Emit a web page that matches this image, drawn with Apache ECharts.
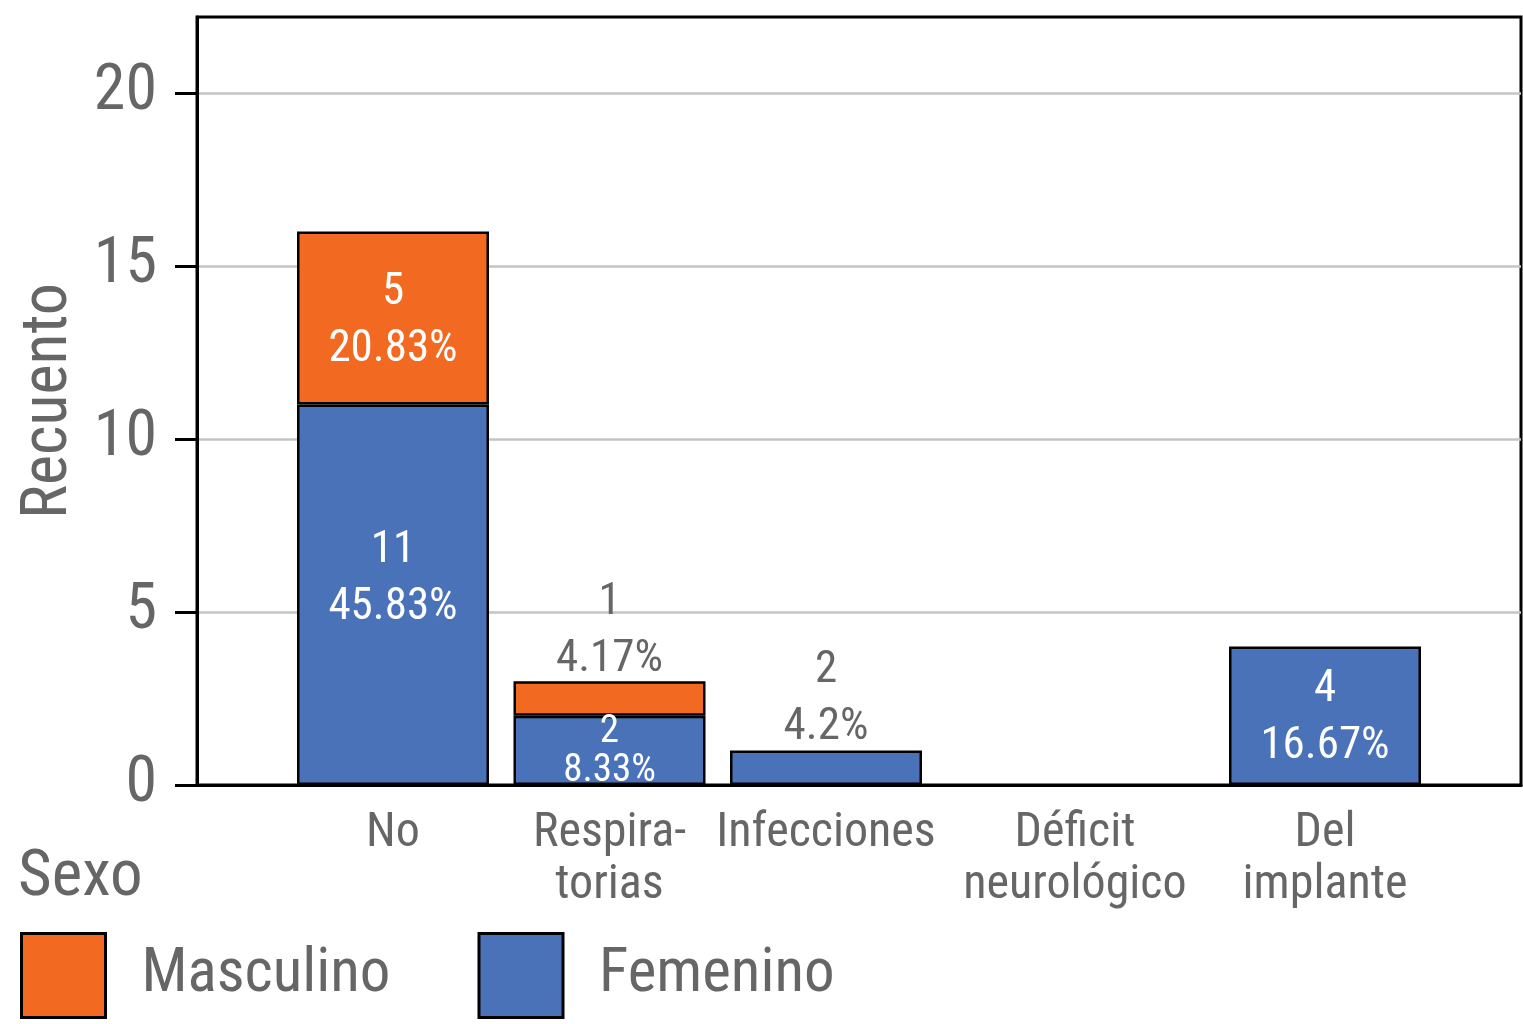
<!DOCTYPE html>
<html>
<head>
<meta charset="utf-8">
<script src="https://cdn.jsdelivr.net/npm/echarts@6/dist/echarts.min.js"></script>
<style>html,body{margin:0;padding:0;background:#fff}#c{width:1523px;height:1024px}</style>
</head>
<body>
<div id="c"></div>
<script>
var categories = ['No', 'Respira-\ntorias', 'Infecciones', 'Déficit\nneurológico', 'Del\nimplante'];
var femenino = [11, 2, 1, 0, 4];
var masculino = [5, 1, 0, 0, 0];
var femCountLabels = ['11', '2', '2', '', '4'];
var femPctLabels = ['45.83%', '8.33%', '4.2%', '', '16.67%'];
var mascCountLabels = ['5', '1', '', '', ''];
var mascPctLabels = ['20.83%', '4.17%', '', '', ''];
var yTicks = [0, 5, 10, 15, 20];
var yMax = 22.2;

var FONT = '"Roboto Condensed", "DejaVu Sans Condensed", sans-serif';
var GREY = '#666666';
var ORANGE = '#F26A22';
var BLUE = '#4A72B8';

// per-index label styling (not data)
var femLabelStyle = [
  {position: 'inside', color: '#fff', offset: [0, -15]},
  {position: 'inside', color: '#fff', fontSize: 39, lineHeight: 39, offset: [0, 1]},
  {position: 'top', color: GREY, distance: -6},
  {position: 'inside', color: '#fff'},
  {position: 'inside', color: '#fff', offset: [0, 2]}
];
var mascLabelStyle = [
  {position: 'inside', color: '#fff', offset: [0, 3]},
  {position: 'top', color: GREY, distance: -7},
  {position: 'inside', color: '#fff'},
  {position: 'inside', color: '#fff'},
  {position: 'inside', color: '#fff'}
];

function buildData(values, counts, pcts, styles, from, to) {
  var out = [];
  for (var i = from; i < to; i++) {
    var v = values[i];
    var txt = counts[i] ? counts[i] + '\n' + pcts[i] : '';
    out.push({
      value: v === 0 ? '-' : v,
      label: Object.assign({
        show: !!txt,
        formatter: txt,
        fontFamily: FONT,
        fontSize: 45,
        lineHeight: 57
      }, styles[i])
    });
  }
  return out;
}

// legend spacing: second swatch starts at x=476
var LEG_FS = 61;
var cv = document.createElement('canvas').getContext('2d');
cv.font = LEG_FS + 'px ' + FONT;
var mascW = cv.measureText('Masculino').width;
var legendGap = Math.max(10, 476 - (20 + 84 + 5 + 31 + mascW));

var split = 3; // first three categories share one spacing, the last two another
var barItem = {borderColor: '#000', borderWidth: 2.5};
var xLabel = {fontFamily: FONT, fontSize: 48, lineHeight: 52, color: GREY, margin: 23, interval: 0};

var option = {
  animation: false,
  backgroundColor: '#fff',
  title: {
    text: 'Sexo', left: 18, top: 846, padding: 0,
    textStyle: {fontFamily: FONT, fontSize: 65, fontWeight: 'normal', color: GREY}
  },
  legend: {
    data: ['Masculino', 'Femenino'],
    left: 20, top: 932, padding: 0,
    icon: 'rect', itemWidth: 84, itemHeight: 84, itemGap: legendGap,
    itemStyle: {borderColor: '#000', borderWidth: 3},
    textStyle: {fontFamily: FONT, fontSize: LEG_FS, color: GREY, padding: [4, 0, 0, 31]}
  },
  grid: [
    {left: 197, right: 2, top: 17, bottom: 239, show: true, borderColor: '#000', borderWidth: 3, outerBoundsMode: 'none'},
    {left: 284.75, width: 649.5, top: 17, bottom: 239, outerBoundsMode: 'none'},
    {left: 950, width: 500, top: 17, bottom: 239, outerBoundsMode: 'none'}
  ],
  xAxis: [
    {gridIndex: 0, type: 'value', min: 0, max: 1, axisLabel: {show: false}, axisTick: {show: false}, splitLine: {show: false},
     axisLine: {show: true, lineStyle: {color: '#000', width: 3}}},
    {gridIndex: 1, type: 'category', data: categories.slice(0, split),
     axisLine: {show: false}, axisTick: {show: false}, axisLabel: xLabel},
    {gridIndex: 2, type: 'category', data: categories.slice(split),
     axisLine: {show: false}, axisTick: {show: false}, axisLabel: xLabel}
  ],
  yAxis: [
    {gridIndex: 0, type: 'value', min: 0, max: yMax,
     name: 'Recuento', nameLocation: 'middle', nameGap: 115,
     nameTextStyle: {fontFamily: FONT, fontSize: 64, color: GREY},
     axisLine: {show: true, lineStyle: {color: '#000', width: 3}},
     axisTick: {show: true, length: 22, lineStyle: {color: '#000', width: 3}, customValues: yTicks},
     axisLabel: {fontFamily: FONT, fontSize: 64, color: GREY, margin: 40, customValues: yTicks},
     splitLine: {show: true, lineStyle: {color: '#c4c4c4', width: 2.5}}},
    {gridIndex: 1, type: 'value', min: 0, max: yMax, show: false},
    {gridIndex: 2, type: 'value', min: 0, max: yMax, show: false}
  ],
  series: [
    {name: 'Femenino', type: 'bar', xAxisIndex: 1, yAxisIndex: 1, stack: 'a', barWidth: 192,
     itemStyle: Object.assign({color: BLUE}, barItem),
     data: buildData(femenino, femCountLabels, femPctLabels, femLabelStyle, 0, split)},
    {name: 'Masculino', type: 'bar', xAxisIndex: 1, yAxisIndex: 1, stack: 'a', barWidth: 192,
     itemStyle: Object.assign({color: ORANGE}, barItem),
     data: buildData(masculino, mascCountLabels, mascPctLabels, mascLabelStyle, 0, split)},
    {name: 'Femenino', type: 'bar', xAxisIndex: 2, yAxisIndex: 2, stack: 'b', barWidth: 192,
     itemStyle: Object.assign({color: BLUE}, barItem),
     data: buildData(femenino, femCountLabels, femPctLabels, femLabelStyle, split, categories.length)},
    {name: 'Masculino', type: 'bar', xAxisIndex: 2, yAxisIndex: 2, stack: 'b', barWidth: 192,
     itemStyle: Object.assign({color: ORANGE}, barItem),
     data: buildData(masculino, mascCountLabels, mascPctLabels, mascLabelStyle, split, categories.length)}
  ]
};

var chart = echarts.init(document.getElementById('c'), null, {renderer: 'canvas'});
chart.setOption(option);
</script>
</body>
</html>
